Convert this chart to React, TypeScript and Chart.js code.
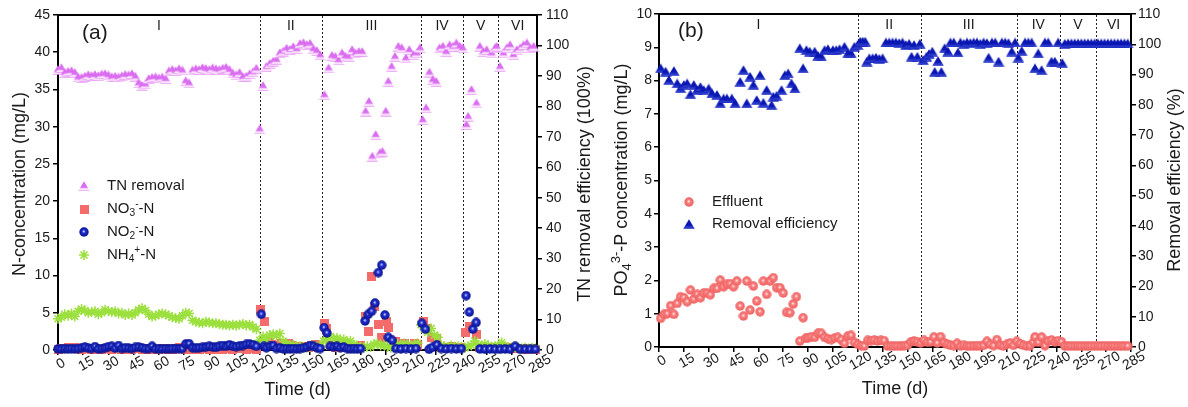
import React, { useEffect, useRef } from 'react';
import { Chart, registerables } from 'chart.js';

Chart.register(...registerables);

const FONT = "'Liberation Sans', Arial, Helvetica, sans-serif";
const TEXT = '#1a1a1a';

// ---------- shared axis text ----------
const xTickLabels = ['0', '15', '30', '45', '60', '75', '90', '105', '120', '135', '150', '165', '180', '195', '210', '225', '240', '255', '270', '285'];
const phaseLabels = ['I', 'II', 'III', 'IV', 'V', 'VI'];
const phaseBoundsA = [120, 157, 216, 241, 262];
const phaseBoundsB = [120, 158, 216, 242, 264];

// ---------- panel (a): [day, value] ----------
const tnRemoval: number[][] = [
  [0, 92.0], [2, 92.6], [4, 91.0], [6, 91.4], [8, 91.6], [10, 91.0], [12, 89.5], [14, 89.4], [16, 89.8], [18, 90.3],
  [20, 90.0], [22, 90.3], [24, 90.0], [26, 90.5], [28, 90.6], [30, 90.2], [32, 89.6], [34, 89.8], [36, 89.5], [38, 89.9],
  [40, 90.4], [42, 90.2], [44, 90.6], [46, 89.8], [48, 87.6], [50, 86.8], [52, 87.2], [54, 89.0], [56, 89.4], [58, 89.6],
  [60, 89.2], [62, 89.5], [64, 89.0], [66, 91.5], [68, 92.0], [70, 91.6], [72, 92.2], [74, 91.8], [76, 88.3], [78, 87.6],
  [80, 91.8], [82, 92.2], [84, 92.0], [86, 92.6], [88, 92.3], [90, 92.0], [92, 92.5], [94, 92.2], [96, 92.0], [98, 92.4],
  [100, 92.7], [102, 92.0], [104, 90.8], [106, 90.2], [108, 91.0], [110, 89.6], [112, 89.8], [114, 90.6], [116, 91.2], [118, 92.4],
  [120, 72.5], [122, 86.7], [124, 93.0], [126, 94.0], [128, 94.7], [130, 95.3], [132, 97.5], [134, 98.0], [136, 99.0], [138, 98.6],
  [140, 99.5], [142, 98.8], [144, 100.5], [146, 100.8], [148, 100.2], [150, 100.6], [152, 98.8], [154, 98.2], [156, 96.8],
  [158.5, 83.7], [161, 92.5], [163, 96.6], [165, 96.3], [167, 95.2], [169, 97.4], [171, 96.4], [173, 96.3], [175, 98.5], [177, 97.4],
  [179, 97.9], [181, 97.9], [183, 78.3], [185, 81.5], [187, 63.5], [189, 70.6], [191.5, 64.6], [193, 65.1], [195, 78.3], [196.5, 88.1],
  [198.5, 93.0], [200.5, 96.3], [202.5, 99.6], [204.5, 99.1], [207, 95.8], [209, 98.5], [211.5, 96.9], [213.5, 97.4], [215.4, 99.1],
  [217, 75.5], [219, 79.4], [221, 91.1], [223, 88.7], [225, 88.1], [227, 99.1], [229, 99.6], [231, 97.9], [233, 100.1], [235, 99.6],
  [237, 100.7], [239, 99.6], [240.8, 99.1],
  [243, 73.9], [244, 76.6], [246, 85.4], [249, 81.0], [251, 99.6], [253, 97.9], [255, 98.5], [258, 97.4], [260, 99.1], [261, 99.6],
  [263, 93.0], [265, 97.4], [267, 99.1], [269, 100.1], [271, 96.9], [273, 98.5], [275, 99.1], [277, 100.1], [279, 100.7], [281, 99.1], [283, 99.6],
];

const no3N: number[][] = [
  [0, 0.1], [2, 0.2], [4, 0.2], [6, 0.3], [8, 0.4], [10, 0.3], [12, 0.2], [14, 0.1], [16, 0.2], [18, 0.2],
  [20, 0.1], [22, 0.2], [24, 0.1], [26, 0.1], [28, 0.2], [30, 0.2], [32, 0.1], [34, 0.2], [36, 0.2], [38, 0.1],
  [40, 0.1], [42, 0.2], [44, 0.1], [46, 0.2], [48, 0.2], [50, 0.1], [52, 0.1], [54, 0.2], [56, 0.1], [58, 0.1],
  [60, 0.1], [62, 0.2], [64, 0.2], [66, 0.1], [68, 0.1], [70, 0.2], [72, 0.3], [74, 0.2], [76, 0.1], [78, 0.1],
  [80, 0.2], [82, 0.1], [84, 0.1], [86, 0.2], [88, 0.2], [90, 0.1], [92, 0.1], [94, 0.2], [96, 0.1], [98, 0.1],
  [100, 0.2], [102, 0.2], [104, 0.1], [106, 0.2], [108, 0.3], [110, 0.2], [112, 0.1], [114, 0.2], [116, 0.2], [118, 0.1],
  [120.5, 5.4], [123, 3.8], [125, 1.0], [127, 0.8], [129, 0.6], [131, 0.4], [133, 0.9], [135, 0.8], [137, 0.9], [139, 0.6],
  [141, 0.3], [143, 0.4], [145, 0.5], [147, 0.3], [149, 0.4], [151, 0.6], [153, 0.8], [155, 0.5],
  [158.5, 3.5], [160, 2.9], [162, 0.6], [165, 0.4], [168, 0.5], [171, 0.3], [174, 0.4], [177, 0.3], [180, 0.6],
  [182.7, 4.5], [184.6, 2.5], [186.6, 9.9], [188.6, 5.8], [190.6, 3.4], [192.6, 1.7], [195.6, 3.8], [196.8, 3.0],
  [201, 1.1], [203, 0.7], [206, 0.9], [209, 0.5], [212, 0.9], [214, 0.6],
  [217.4, 3.8], [220, 2.9], [222.3, 1.7], [225.3, 1.5], [228, 0.4], [231, 0.3], [234, 0.5], [237, 0.3], [240, 0.4],
  [242.2, 2.4], [245.1, 3.2], [249.1, 2.1], [251, 0.4], [254, 0.3], [257, 0.3], [260, 0.2],
  [263, 0.3], [266, 0.2], [269, 0.3], [272, 0.2], [275, 0.2], [278, 0.1], [281, 0.2], [284, 0.1],
];

const no2N: number[][] = [
  [0, 0.15], [2, 0.15], [4, 0.2], [6, 0.15], [8, 0.2], [10, 0.15], [12, 0.2], [14, 0.3], [16, 0.4], [18, 0.25],
  [20, 0.2], [22, 0.45], [24, 0.15], [26, 0.2], [28, 0.3], [30, 0.45], [32, 0.5], [34, 0.25], [36, 0.6], [38, 0.2],
  [40, 0.3], [42, 0.25], [44, 0.2], [46, 0.35], [48, 0.4], [50, 0.3], [52, 0.2], [54, 0.2], [56, 0.5], [58, 0.15],
  [60, 0.2], [62, 0.15], [64, 0.2], [66, 0.15], [68, 0.2], [70, 0.2], [72, 0.2], [74, 0.2], [76, 0.8], [78, 0.85],
  [80, 0.3], [82, 0.25], [84, 0.3], [86, 0.35], [88, 0.4], [90, 0.5], [92, 0.4], [94, 0.35], [96, 0.5], [98, 0.6],
  [100, 0.5], [102, 0.7], [104, 0.5], [106, 0.45], [108, 0.55], [110, 0.6], [112, 0.75], [114, 0.8], [116, 0.7], [118, 0.5],
  [121, 4.8], [122.5, 0.5], [124, 0.3], [126, 0.5], [128, 0.6], [130, 0.2], [132, 0.3], [134, 0.15], [136, 0.2], [138, 0.15],
  [140, 0.2], [142, 0.15], [144, 0.2], [146, 0.3], [148, 0.4], [150, 0.6], [152, 0.5], [154, 0.3], [156, 0.2],
  [158.3, 3.0], [160, 2.3], [162, 0.5], [164, 0.4], [166, 0.5], [168, 0.3], [170, 0.4], [172, 0.2], [174, 0.15], [176, 0.2], [178, 0.15], [180, 0.2],
  [182.7, 3.9], [184.6, 4.8], [186.6, 5.2], [188.6, 6.3], [190.6, 10.4], [192.6, 11.4], [194.5, 4.7], [196.5, 1.7], [198.9, 1.3],
  [201, 0.2], [204, 0.15], [207, 0.2], [210, 0.15], [213, 0.2],
  [216.4, 3.6], [218.6, 2.8], [220.8, 0.1], [222.8, 0.35], [225.4, 0.7], [228, 0.2], [231, 0.15], [234, 0.2], [237, 0.15], [240, 0.2],
  [242.8, 7.3], [244.8, 5.1], [246.8, 2.8], [248.8, 3.7], [251, 0.15], [254, 0.1], [257, 0.15], [260, 0.1],
  [263, 0.1], [266, 0.15], [269, 0.1], [272, 0.5], [275, 0.1], [278, 0.1], [281, 0.1], [284, 0.1],
];

const nh4N: number[][] = [
  [0, 4.2], [2, 4.4], [4, 4.8], [6, 4.6], [8, 4.9], [10, 4.5], [12, 5.2], [14, 5.5], [16, 5.3], [18, 5.0],
  [20, 5.1], [22, 5.2], [24, 4.8], [26, 5.0], [28, 5.4], [30, 5.2], [32, 5.1], [34, 5.2], [36, 4.9], [38, 5.0],
  [40, 4.7], [42, 4.9], [44, 4.7], [46, 5.0], [48, 5.4], [50, 5.6], [52, 5.3], [54, 4.8], [56, 4.5], [58, 4.6],
  [60, 4.8], [62, 4.9], [64, 4.8], [66, 4.6], [68, 4.4], [70, 4.3], [72, 4.2], [74, 4.6], [76, 5.0], [78, 4.9],
  [80, 4.0], [82, 3.8], [84, 3.7], [86, 3.6], [88, 3.8], [90, 3.7], [92, 3.6], [94, 3.6], [96, 3.5], [98, 3.4],
  [100, 3.4], [102, 3.3], [104, 3.4], [106, 3.3], [108, 3.4], [110, 3.5], [112, 3.3], [114, 3.4], [116, 3.1], [118, 2.8],
  [120, 1.3], [122, 1.8], [124, 1.4], [126, 2.0], [128, 2.1], [130, 1.9], [132, 2.2], [134, 1.2], [136, 0.8], [138, 0.6],
  [140, 0.7], [142, 0.4], [144, 0.5], [146, 0.4], [148, 0.3], [150, 0.5], [152, 0.6], [154, 0.4], [156, 0.5],
  [158, 1.2], [160, 1.6], [162, 1.8], [164, 1.5], [166, 1.6], [168, 1.3], [170, 1.4], [172, 1.1], [174, 1.2], [176, 0.7],
  [178, 0.6], [180, 0.4], [182, 0.3], [184, 0.5], [186, 0.4], [188, 0.8], [190, 0.9], [192, 0.6], [194, 0.7], [196, 0.4],
  [198, 0.3], [200, 0.5], [202, 0.8], [204, 0.6], [206, 0.9], [208, 0.7], [210, 0.5], [212, 0.8], [214, 0.9],
  [216, 3.4], [218, 2.8], [220, 2.4], [222, 2.9], [224, 2.0], [226, 1.7], [228, 0.7], [230, 0.5], [232, 0.4], [234, 0.6],
  [236, 0.3], [238, 0.5], [240, 0.4],
  [242, 0.3], [244, 0.5], [246, 0.6], [248, 1.2], [250, 0.7], [252, 0.5], [254, 0.8], [256, 0.6], [258, 0.4], [260, 0.5],
  [262, 0.6], [264, 1.0], [266, 0.5], [268, 0.4], [270, 0.3], [272, 0.4], [274, 0.3], [276, 0.2], [278, 0.3], [280, 0.2], [282, 0.3], [284, 0.2],
];

// ---------- panel (b): [day, value] ----------
const poEffluent: number[][] = [
  [1, 0.86], [3, 0.98], [5, 1.0], [7, 1.24], [9, 0.98], [11, 1.31], [13, 1.51], [15, 1.48], [17, 1.36], [19, 1.71],
  [21, 1.44], [23, 1.58], [25, 1.48], [27, 1.62], [29, 1.62], [31, 1.57], [33, 1.76], [35, 1.76], [37, 2.01], [39, 1.81],
  [41, 1.88], [43, 1.9], [45, 1.81], [47, 1.98], [49, 1.23], [51, 0.93], [53, 1.98], [55, 1.11], [57, 1.83], [59, 1.38],
  [61, 1.06], [63, 1.98], [65, 1.58], [67, 1.98], [69, 2.08], [71, 1.78], [73, 1.78], [75, 1.62], [77, 1.04], [79, 1.03],
  [81, 1.29], [83, 1.51], [85, 0.18], [87, 0.88], [88.5, 0.26], [90, 0.28], [92, 0.31], [94, 0.29], [96, 0.41], [98, 0.41],
  [100, 0.29], [102, 0.25], [104, 0.22], [106, 0.27], [108, 0.29], [110, 0.22], [112, 0.11], [114, 0.33], [116, 0.35], [118, 0.14],
  [120, 0.08], [122, 0.04], [124, 0.03], [126, 0.2], [128, 0.19], [130, 0.21], [132, 0.18], [134, 0.2], [136, 0.19], [138, 0.03],
  [140, 0.03], [142, 0.03], [144, 0.03], [146, 0.03], [148, 0.04], [150, 0.05], [152, 0.15], [154, 0.18], [156, 0.16], [158, 0.12],
  [160, 0.2], [162, 0.14], [164, 0.15], [166, 0.3], [168, 0.12], [170, 0.31], [172, 0.13], [174, 0.08], [176, 0.05], [178, 0.04],
  [180, 0.11], [182, 0.03], [184, 0.05], [186, 0.03], [188, 0.03], [190, 0.03], [192, 0.04], [194, 0.03], [196, 0.05], [198, 0.17],
  [200, 0.08], [202, 0.04], [204, 0.22], [206, 0.05], [208, 0.03], [210, 0.08], [212, 0.12], [214, 0.05], [216, 0.17], [218, 0.1],
  [220, 0.05], [222, 0.03], [224, 0.04], [226, 0.14], [227, 0.3], [229, 0.14], [231, 0.3], [233, 0.04], [235, 0.18], [237, 0.21],
  [239, 0.15], [241, 0.19], [243, 0.16], [245, 0.03], [247, 0.03], [249, 0.03], [251, 0.03], [253, 0.03], [255, 0.03], [257, 0.03],
  [259, 0.03], [261, 0.03], [263, 0.03], [265, 0.03], [267, 0.03], [269, 0.03], [271, 0.03], [273, 0.03], [275, 0.03], [277, 0.03],
  [279, 0.03], [281, 0.03], [283, 0.03],
];

const poRemoval: number[][] = [
  [1, 92.1], [4, 91.0], [6, 88.2], [9, 91.2], [11, 87.1], [13, 85.5], [15, 86.6], [17, 87.1], [19, 83.5], [21, 86.6],
  [23, 84.9], [25, 85.9], [27, 84.9], [30, 85.4], [32, 83.8], [35, 83.3], [37, 80.5], [39, 82.1], [41, 82.1], [44, 82.1],
  [46, 80.5], [49, 87.6], [51, 91.5], [53, 80.5], [55, 89.3], [57, 86.6], [59, 81.6], [61, 89.8], [63, 80.7], [65, 84.9],
  [68, 79.9], [69, 82.7], [71, 83.0], [74, 84.9], [76, 89.8], [78, 90.4], [80, 87.1], [82, 85.4], [85, 98.7], [87, 92.1],
  [89, 98.1], [91, 97.6], [94, 97.6], [96, 96.2], [98, 96.0], [100, 98.1], [102, 98.4], [105, 98.1], [107, 98.1], [109, 98.4],
  [112, 99.2], [114, 97.0], [116, 97.0], [118, 99.2], [120, 99.8],
  [121.5, 100.9], [123, 100.9], [124.5, 100.9], [125.5, 94.3], [127, 95.4], [129, 95.4], [131, 95.6], [133, 95.2], [135, 95.4],
  [137, 100.6], [139, 100.6], [141, 100.6], [143, 100.6], [145, 100.4], [147, 100.6], [149, 99.8], [151, 100.2], [152.5, 95.9],
  [154, 99.8], [156, 95.9], [157.5, 100.2],
  [159.5, 94.8], [161.5, 95.9], [163, 96.8], [165, 97.6], [166.5, 90.9], [168.5, 94.5], [170.5, 90.9], [172.5, 98.7], [174.5, 97.6],
  [176, 100.6], [178, 100.6], [180.5, 97.3], [182, 100.6], [184, 100.2], [186, 100.6], [188, 100.4], [190, 100.6], [192, 100.6],
  [194, 100.2], [196, 100.6], [198, 100.4], [199, 95.6], [201, 100.6], [203, 100.6], [205, 94.3], [207, 100.6], [209, 100.6],
  [211, 100.4], [213, 97.6], [215, 100.6],
  [217, 95.6], [219, 97.8], [221, 100.6], [223, 100.6], [225, 100.6], [227, 92.1], [229, 97.0], [231, 91.5], [233, 100.6],
  [235, 100.6], [237, 94.3], [239, 94.3], [241, 100.6],
  [243.5, 93.8], [245, 100.2], [247, 100.3], [249, 100.3], [251, 100.3], [253, 100.3], [255, 100.3], [257, 100.3], [259, 100.3],
  [261, 100.3], [263, 100.3], [265, 100.3], [267, 100.3], [269, 100.3], [271, 100.3], [273, 100.3], [275, 100.3], [277, 100.3],
  [279, 100.3], [281, 100.3], [283, 100.3],
];

// ---------- helpers ----------
type Part = { t: string; k?: 'sub' | 'sup' };

function drawRich(ctx: CanvasRenderingContext2D, parts: Part[], x: number, y: number, size: number, align: 'left' | 'center', smallScale = 0.68) {
  const small = size * smallScale;
  let total = 0;
  const widths = parts.map((p) => {
    ctx.font = `${p.k ? small : size}px ${FONT}`;
    const w = ctx.measureText(p.t).width;
    total += w;
    return w;
  });
  let cx = align === 'center' ? x - total / 2 : x;
  ctx.textAlign = 'left';
  ctx.textBaseline = 'middle';
  parts.forEach((p, i) => {
    ctx.font = `${p.k ? small : size}px ${FONT}`;
    const dy = p.k === 'sub' ? size * 0.3 : p.k === 'sup' ? -size * 0.32 : 0;
    ctx.fillText(p.t, cx, y + dy);
    cx += widths[i];
  });
}

function circleSprite(d: number, light: string, mid: string, dark: string) {
  const c = document.createElement('canvas');
  c.width = d;
  c.height = d;
  const g = c.getContext('2d')!;
  const r = d / 2;
  const grad = g.createRadialGradient(r * 0.95, r * 0.85, 0, r, r, r);
  grad.addColorStop(0, light);
  grad.addColorStop(0.35, mid);
  grad.addColorStop(1, dark);
  g.fillStyle = grad;
  g.beginPath();
  g.arc(r, r, r - 0.3, 0, Math.PI * 2);
  g.fill();
  return c;
}

function triSprite(w: number, h: number, top: string, band: string, bottom: string) {
  const c = document.createElement('canvas');
  c.width = w;
  c.height = h;
  const g = c.getContext('2d')!;
  const grad = g.createLinearGradient(0, 0, 0, h);
  grad.addColorStop(0, top);
  grad.addColorStop(0.62, top);
  grad.addColorStop(0.78, band);
  grad.addColorStop(0.88, band);
  grad.addColorStop(1, bottom);
  g.fillStyle = grad;
  g.beginPath();
  g.moveTo(w / 2, 0.3);
  g.lineTo(w - 0.3, h - 0.3);
  g.lineTo(0.3, h - 0.3);
  g.closePath();
  g.fill();
  return c;
}

function squareSprite(s: number, color: string) {
  const c = document.createElement('canvas');
  c.width = s;
  c.height = s;
  const g = c.getContext('2d')!;
  g.fillStyle = color;
  g.fillRect(0, 0, s, s);
  return c;
}

function drawStar(ctx: CanvasRenderingContext2D, x: number, y: number, r: number, color: string) {
  ctx.save();
  ctx.strokeStyle = color;
  ctx.lineWidth = 1.6;
  ctx.beginPath();
  for (let i = 0; i < 4; i++) {
    const a = (i * Math.PI) / 4;
    ctx.moveTo(x + Math.sin(a) * r, y - Math.cos(a) * r);
    ctx.lineTo(x - Math.sin(a) * r, y + Math.cos(a) * r);
  }
  ctx.stroke();
  ctx.restore();
}

type LegendItem = { sprite?: HTMLCanvasElement; star?: string; label: Part[] };

type DecorCfg = {
  id: string;
  bounds: number[];
  panelText: string;
  panelX: number;
  panelY: number;
  legend: LegendItem[];
  legendX: number;
  legendTextX: number;
  legendY: number[];
  leftTitle: Part[];
  rightTitle: Part[];
  leftTitleX: number;
  rightTitleX: number;
  titleY: number;
  xTitleY: number;
};

function decor(cfg: DecorCfg) {
  return {
    id: cfg.id,
    beforeDatasetsDraw(chart: any) {
      const { ctx, chartArea } = chart;
      const { left, right, top, bottom } = chartArea;
      const xs = chart.scales.x;
      ctx.save();
      ctx.strokeStyle = '#000';
      ctx.lineWidth = 2;
      ctx.beginPath();
      ctx.moveTo(left - 1, top);
      ctx.lineTo(right + 1, top);
      ctx.stroke();
      ctx.lineWidth = 1;
      ctx.strokeStyle = '#222';
      ctx.setLineDash([2, 2]);
      cfg.bounds.forEach((b) => {
        const x = Math.round(xs.getPixelForValue(b)) + 0.5;
        ctx.beginPath();
        ctx.moveTo(x, top + 1);
        ctx.lineTo(x, bottom);
        ctx.stroke();
      });
      ctx.restore();
    },
    afterDraw(chart: any) {
      const { ctx, chartArea } = chart;
      const { left, right, top, bottom } = chartArea;
      const xs = chart.scales.x;
      ctx.save();
      ctx.fillStyle = TEXT;
      // phase labels
      const edges = [xs.min, ...cfg.bounds, xs.max];
      ctx.font = `14px ${FONT}`;
      ctx.textAlign = 'center';
      ctx.textBaseline = 'middle';
      phaseLabels.forEach((lbl, i) => {
        const mid = (edges[i] + edges[i + 1]) / 2;
        ctx.fillText(lbl, xs.getPixelForValue(mid), top + 11);
      });
      // panel label
      ctx.font = `21px ${FONT}`;
      ctx.textAlign = 'left';
      ctx.fillText(cfg.panelText, cfg.panelX, cfg.panelY);
      // x tick labels (rotated)
      ctx.font = `14px ${FONT}`;
      xTickLabels.forEach((lbl) => {
        const px = xs.getPixelForValue(Number(lbl));
        ctx.save();
        ctx.translate(px + 3, bottom + 14);
        ctx.rotate(-Math.PI / 6);
        ctx.textAlign = 'center';
        ctx.textBaseline = 'middle';
        ctx.fillText(lbl, 0, 0);
        ctx.restore();
      });
      // x title
      ctx.font = `18px ${FONT}`;
      ctx.textAlign = 'center';
      ctx.textBaseline = 'middle';
      ctx.fillText('Time (d)', (left + right) / 2, cfg.xTitleY);
      // y titles
      ctx.save();
      ctx.translate(cfg.leftTitleX, cfg.titleY);
      ctx.rotate(-Math.PI / 2);
      drawRich(ctx, cfg.leftTitle, 0, 0, 18, 'center', 0.72);
      ctx.restore();
      ctx.save();
      ctx.translate(cfg.rightTitleX, cfg.titleY);
      ctx.rotate(-Math.PI / 2);
      drawRich(ctx, cfg.rightTitle, 0, 0, 18, 'center', 0.72);
      ctx.restore();
      // legend
      cfg.legend.forEach((item, i) => {
        const y = cfg.legendY[i];
        if (item.sprite) {
          ctx.drawImage(item.sprite, cfg.legendX - item.sprite.width / 2, y - item.sprite.height / 2);
        } else if (item.star) {
          drawStar(ctx, cfg.legendX, y, 5, item.star);
        }
        ctx.fillStyle = TEXT;
        drawRich(ctx, item.label, cfg.legendTextX, y, 15, 'left');
      });
      ctx.restore();
    },
  };
}

function axisStyle() {
  return {
    grid: { display: true, drawOnChartArea: false, drawTicks: true, tickLength: 5, color: '#000', lineWidth: 1.5 },
    border: { display: true, color: '#000', width: 2 },
  };
}

function buildOptions(o: { yMax: number; yStep: number; y1Max: number; y1Step: number; leftW: number; rightW: number; top: number; xH: number; leftPad: number; rightPad: number }) {
  const tickFont = { family: FONT, size: 14 };
  return {
    animation: false as const,
    responsive: false,
    maintainAspectRatio: false,
    devicePixelRatio: 1,
    layout: { padding: { top: o.top, left: 0, right: 0, bottom: 0 } },
    plugins: { legend: { display: false }, tooltip: { enabled: false } },
    events: [],
    scales: {
      x: {
        type: 'linear' as const,
        min: 0,
        max: 285,
        ticks: { display: false, stepSize: 15 },
        ...axisStyle(),
        afterFit: (s: any) => { s.height = o.xH; },
      },
      y: {
        type: 'linear' as const,
        position: 'left' as const,
        min: 0,
        max: o.yMax,
        ticks: { stepSize: o.yStep, color: TEXT, font: tickFont, padding: o.leftPad },
        ...axisStyle(),
        afterFit: (s: any) => { s.width = o.leftW; },
      },
      y1: {
        type: 'linear' as const,
        position: 'right' as const,
        min: 0,
        max: o.y1Max,
        ticks: { stepSize: o.y1Step, color: TEXT, font: tickFont, padding: o.rightPad },
        ...axisStyle(),
        afterFit: (s: any) => { s.width = o.rightW; },
      },
    },
  };
}

const toXY = (arr: number[][]) => arr.map(([x, y]) => ({ x, y }));

export default function App() {
  const refA = useRef<HTMLCanvasElement>(null);
  const refB = useRef<HTMLCanvasElement>(null);

  useEffect(() => {
    const sNO2 = circleSprite(10, '#e4e8ff', '#1e2ed2', '#070f80');
    const sEff = circleSprite(10, '#ffffff', '#f98080', '#ec5c5c');
    const sTN = triSprite(12, 10, '#da6cf0', '#fbe6fe', '#d865ee');
    const sRE = triSprite(12, 10, '#0a16b2', '#2a3acb', '#0f1cb6');
    const sNO3 = squareSprite(9, '#f36b6b');
    const green = '#9be03d';

    const ptBase = { showLine: false, clip: false as any, pointRadius: 5 };

    const chartA = new Chart(refA.current!, {
      type: 'scatter',
      data: {
        datasets: [
          { ...ptBase, label: 'NO2-N', data: toXY(no2N), yAxisID: 'y', pointStyle: sNO2 as any },
          { ...ptBase, label: 'NH4-N', data: toXY(nh4N), yAxisID: 'y', pointStyle: 'star', pointBorderColor: green, pointBackgroundColor: green, borderColor: green, pointBorderWidth: 1.5 },
          { ...ptBase, label: 'NO3-N', data: toXY(no3N), yAxisID: 'y', pointStyle: sNO3 as any },
          { ...ptBase, label: 'TN removal', data: toXY(tnRemoval), yAxisID: 'y1', pointStyle: sTN as any },
        ],
      },
      options: buildOptions({ yMax: 45, yStep: 5, y1Max: 110, y1Step: 10, leftW: 58, rightW: 59, top: 15, xH: 57, leftPad: 3, rightPad: 4 }) as any,
      plugins: [
        decor({
          id: 'decorA',
          bounds: phaseBoundsA,
          panelText: '(a)',
          panelX: 82,
          panelY: 33,
          legend: [
            { sprite: sTN, label: [{ t: 'TN removal' }] },
            { sprite: sNO3, label: [{ t: 'NO' }, { t: '3', k: 'sub' }, { t: '-', k: 'sup' }, { t: '-N' }] },
            { sprite: sNO2, label: [{ t: 'NO' }, { t: '2', k: 'sub' }, { t: '-', k: 'sup' }, { t: '-N' }] },
            { star: green, label: [{ t: 'NH' }, { t: '4', k: 'sub' }, { t: '+', k: 'sup' }, { t: '-N' }] },
          ],
          legendX: 84,
          legendTextX: 107,
          legendY: [186, 209, 232, 255],
          leftTitle: [{ t: 'N-concentration (mg/L)' }],
          rightTitle: [{ t: 'TN removal efficiency (100%)' }],
          leftTitleX: 20,
          rightTitleX: 585,
          titleY: 184,
          xTitleY: 390,
        }),
      ],
    });

    const chartB = new Chart(refB.current!, {
      type: 'scatter',
      data: {
        datasets: [
          { ...ptBase, label: 'Effluent', data: toXY(poEffluent), yAxisID: 'y', pointStyle: sEff as any },
          { ...ptBase, label: 'Removal efficiency', data: toXY(poRemoval), yAxisID: 'y1', pointStyle: sRE as any },
        ],
      },
      options: buildOptions({ yMax: 10, yStep: 1, y1Max: 110, y1Step: 10, leftW: 63, rightW: 57, top: 14, xH: 60, leftPad: 2, rightPad: 2 }) as any,
      plugins: [
        decor({
          id: 'decorB',
          bounds: phaseBoundsB,
          panelText: '(b)',
          panelX: 82,
          panelY: 31,
          legend: [
            { sprite: sEff, label: [{ t: 'Effluent' }] },
            { sprite: sRE, label: [{ t: 'Removal efficiency' }] },
          ],
          legendX: 93,
          legendTextX: 116,
          legendY: [202, 224],
          leftTitle: [{ t: 'PO' }, { t: '4', k: 'sub' }, { t: '3-', k: 'sup' }, { t: '-P concentration (mg/L)' }],
          rightTitle: [{ t: 'Removal efficiency (%)' }],
          leftTitleX: 26,
          rightTitleX: 579,
          titleY: 180,
          xTitleY: 389,
        }),
      ],
    });

    return () => {
      chartA.destroy();
      chartB.destroy();
    };
  }, []);

  return (
    <div style={{ position: 'absolute', left: 0, top: 0, width: 1188, height: 407, background: '#fff', overflow: 'hidden' }}>
      <canvas ref={refA} width={596} height={407} style={{ position: 'absolute', left: 0, top: 0, width: 596, height: 407 }} />
      <canvas ref={refB} width={592} height={407} style={{ position: 'absolute', left: 596, top: 0, width: 592, height: 407 }} />
    </div>
  );
}
